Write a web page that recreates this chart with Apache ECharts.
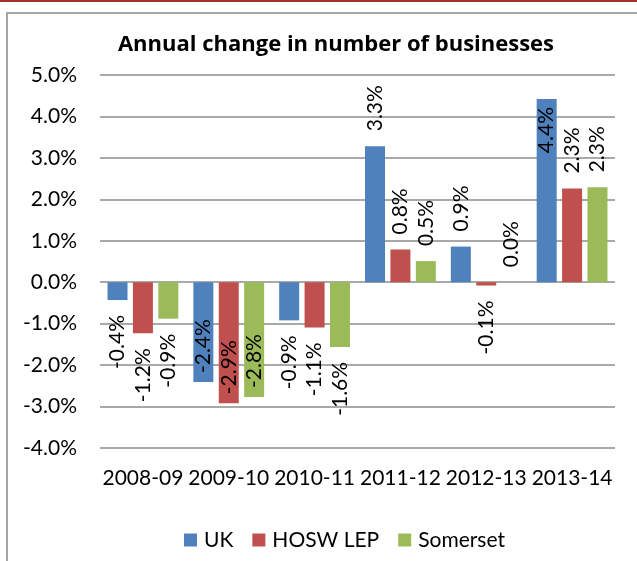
<!DOCTYPE html>
<html><head><meta charset="utf-8">
<script src="https://cdn.jsdelivr.net/npm/echarts@6/dist/echarts.min.js"></script>
<style>html,body{margin:0;padding:0;background:#fff}#c{width:637px;height:561px}</style>
</head><body><div id="c"></div>
<script>
const chartTitle = 'Annual change in number of businesses';
const categories = ['2008-09', '2009-10', '2010-11', '2011-12', '2012-13', '2013-14'];
const seriesNames = ['UK', 'HOSW LEP', 'Somerset'];
const ukValues = [-0.43, -2.41, -0.92, 3.28, 0.86, 4.42];
const hoswValues = [-1.23, -2.92, -1.09, 0.79, -0.08, 2.26];
const somersetValues = [-0.88, -2.77, -1.56, 0.51, 0.0, 2.29];
const seriesColors = ['#4F81BD', '#C0504D', '#9BBB59'];
const yMin = -4, yMax = 5, yStep = 1;

const FONT = 'Lato';
function buildData(vals) {
  return vals.map(function (v) {
    const lim = v >= 0 ? yMax : -yMin;
    const outside = Math.abs(v) + 1.65 <= lim;
    let label;
    if (v >= 0) {
      label = outside ? {position: 'top', distance: 15, align: 'left'}
                      : {position: 'insideTop', distance: 8, align: 'right'};
    } else {
      label = outside ? {position: 'bottom', distance: 15, align: 'right'}
                      : {position: 'insideBottom', distance: 9, align: 'left'};
    }
    return {value: v, label: label};
  });
}
const allValues = [ukValues, hoswValues, somersetValues];

const chart = echarts.init(document.getElementById('c'), null, {renderer: 'canvas'});
chart.setOption({
  backgroundColor: '#fff',
  animation: false,
  textStyle: {fontFamily: FONT},
  graphic: [
    {type: 'rect', z: -10, shape: {x: 0, y: 0, width: 637, height: 2}, style: {fill: '#a5322f'}},
    {type: 'rect', z: -10, shape: {x: 7, y: 13, width: 700, height: 700}, style: {fill: 'none', stroke: '#a6a6a6', lineWidth: 2}},
    {type: 'text', x: 336, y: 45, style: {text: chartTitle, fontFamily: 'Open Sans', fontSize: 22, fontWeight: 'bold', fill: '#000', align: 'center', verticalAlign: 'middle'}}
  ],
  grid: {left: 100, right: 22, top: 75, bottom: 113, containLabel: false},
  legend: {
    data: seriesNames, left: 184, top: 528, padding: 0,
    icon: 'rect', itemWidth: 13, itemHeight: 13, itemGap: 19,
    textStyle: {fontFamily: FONT, fontSize: 21, color: '#000', lineHeight: 24, padding: [0, 0, 0, 2]}
  },
  xAxis: {
    type: 'category', data: categories,
    axisLine: {show: false, onZero: false}, axisTick: {show: false},
    axisLabel: {interval: 0, margin: 20, fontFamily: FONT, fontSize: 21, color: '#000'}
  },
  yAxis: {
    type: 'value', min: yMin, max: yMax, interval: yStep,
    axisLine: {show: false}, axisTick: {show: false},
    axisLabel: {margin: 23, fontFamily: FONT, fontSize: 21, color: '#000', formatter: function (v) { return v.toFixed(1) + '%'; }},
    splitLine: {lineStyle: {color: '#8c8c8c', width: 1.5}}
  },
  series: seriesNames.map(function (name, i) {
    return {
      name: name, type: 'bar', data: buildData(allValues[i]),
      barWidth: 20, barGap: '27%',
      itemStyle: {color: seriesColors[i]},
      label: {
        show: true, rotate: 90, verticalAlign: 'middle',
        fontFamily: FONT, fontSize: 21, color: '#000',
        formatter: function (p) { return p.value.toFixed(1) + '%'; }
      }
    };
  })
});
</script></body></html>
